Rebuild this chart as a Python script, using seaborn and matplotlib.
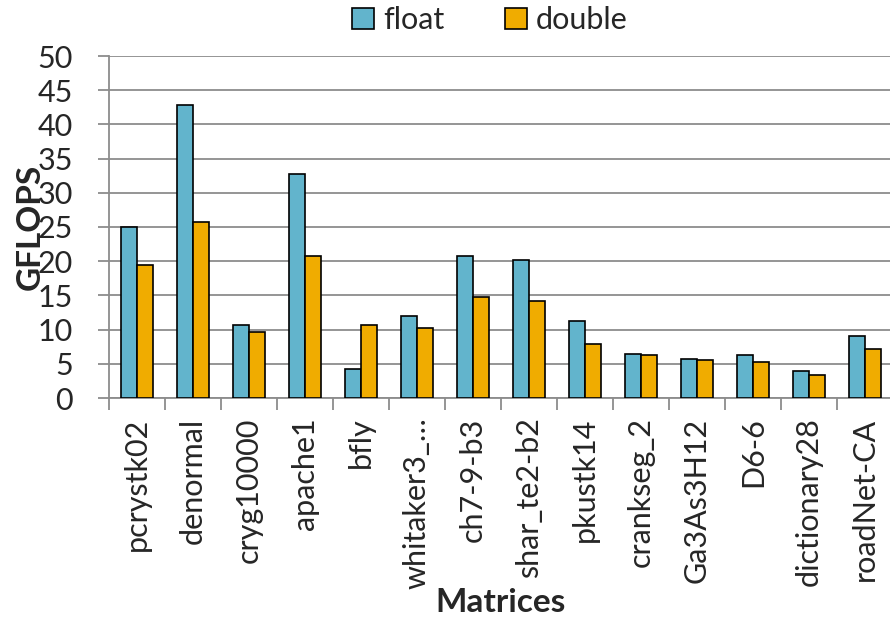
import numpy as np
import pandas as pd
import matplotlib
matplotlib.use("Agg")
import matplotlib.pyplot as plt
import seaborn as sns
from matplotlib.patches import Patch

# Per-matrix GFLOPS for single and double precision SpMV
matrices = ["pcrystk02", "denormal", "cryg10000", "apache1", "bfly",
            "whitaker3_\u2026", "ch7-9-b3", "shar_te2-b2", "pkustk14",
            "crankseg_2", "Ga3As3H12", "D6-6", "dictionary28", "roadNet-CA"]
float_gflops = [25.0, 42.9, 10.7, 32.8, 4.3, 12.0, 20.7, 20.2, 11.3,
                6.5, 5.7, 6.3, 4.0, 9.0]
double_gflops = [19.4, 25.7, 9.6, 20.7, 10.6, 10.2, 14.8, 14.2, 7.9,
                 6.3, 5.5, 5.3, 3.4, 7.2]
series = ["float", "double"]
colors = ["#62B4CC", "#F0AC00"]
yticks = list(range(0, 51, 5))

df = pd.DataFrame({
    "matrix": matrices * 2,
    "precision": ["float"] * len(matrices) + ["double"] * len(matrices),
    "gflops": float_gflops + double_gflops,
})

sns.set_theme(style="white")
plt.rcParams["font.family"] = ["Lato", "DejaVu Sans"]

W, H = 890, 619
fig = plt.figure(figsize=(W / 100, H / 100), dpi=100)
ax = fig.add_axes([109 / W, 1 - 398 / H, (893 - 109) / W, (398 - 56) / H])

sns.barplot(data=df, x="matrix", y="gflops", hue="precision",
            hue_order=series, palette=colors, width=0.571,
            edgecolor="black", linewidth=1.2, saturation=1,
            legend=False, ax=ax, zorder=3)

grey = "#8C8C8C"
ax.set_ylim(0, 50)
ax.set_xlim(-0.5, len(matrices) - 0.5)
ax.set_yticks(yticks)
ax.set_yticklabels([str(v) for v in yticks], fontsize=22)
ax.yaxis.grid(True, color=grey, linewidth=1.3, zorder=0)
ax.set_axisbelow(True)

ax.set_xticks(range(len(matrices)))
ax.set_xticklabels(matrices, rotation=90, fontsize=22, va="top")
ax.set_xticks(np.arange(-0.5, len(matrices), 1), minor=True)
ax.tick_params(axis="x", which="major", length=0, pad=14)
ax.tick_params(axis="x", which="minor", length=8.5, width=1.3, color=grey,
               direction="out", bottom=True)
ax.tick_params(axis="y", which="major", length=8, width=1.3, color=grey,
               direction="out", left=True, pad=18)

for side in ["top", "right"]:
    ax.spines[side].set_visible(False)
for side in ["left", "bottom"]:
    ax.spines[side].set_color(grey)
    ax.spines[side].set_linewidth(1.3)

ax.set_xlabel("")
ax.set_ylabel("")
fig.text(30 / W, 1 - 227 / H, "GFLOPS", rotation=90, fontsize=24,
         fontweight="bold", ha="center", va="center")
fig.text(501 / W, 1 - 603 / H, "Matrices", fontsize=24,
         fontweight="bold", ha="center", va="center")

handles = [Patch(facecolor=c, edgecolor="black", linewidth=1.2, label=s)
           for c, s in zip(colors, series)]
fig.legend(handles=handles, loc="center", bbox_to_anchor=(490 / W, 1 - 20 / H),
           ncol=2, frameon=False, fontsize=22, handlelength=0.7,
           handleheight=0.7, handletextpad=0.3, columnspacing=2.0)

fig.savefig("out.png", dpi=100)
